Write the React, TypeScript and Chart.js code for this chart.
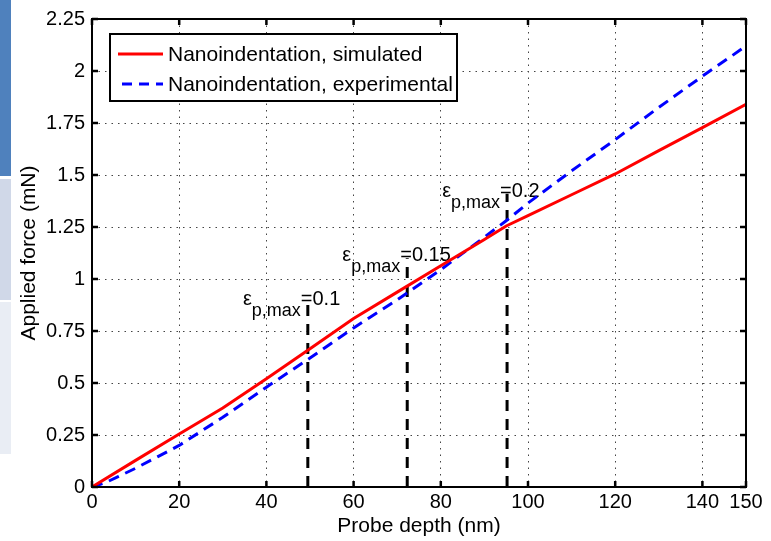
import React, { useEffect, useRef } from "react";
import { Chart, registerables } from "chart.js";

Chart.register(...registerables);

// ---- data ----
const simDepth = [0, 10, 20, 30, 40, 50, 60, 70, 80, 90, 95, 100, 110, 120, 130, 140, 150];
const simForce = [0, 0.128, 0.255, 0.38, 0.52, 0.665, 0.81, 0.937, 1.064, 1.19, 1.255, 1.305, 1.405, 1.505, 1.617, 1.728, 1.84];

const expDepth = [0, 3, 6, 10, 15, 20, 30, 40, 50, 60, 70, 80, 88, 95, 100, 110, 120, 130, 140, 150];
const expForce = [0, 0.02, 0.05, 0.09, 0.145, 0.2, 0.335, 0.48, 0.62, 0.765, 0.9, 1.045, 1.17, 1.28, 1.365, 1.52, 1.67, 1.825, 1.975, 2.12];

const strainLabels = ["0.1", "0.15", "0.2"];
const strainDepth = [49.5, 72.3, 95.2];
const strainTop = [0.89, 1.1, 1.41];

const xTicks = [0, 20, 40, 60, 80, 100, 120, 140, 150];
const xTickLabels = ["0", "20", "40", "60", "80", "100", "120", "140", "150"];
const yTicks = [0, 0.25, 0.5, 0.75, 1, 1.25, 1.5, 1.75, 2, 2.25];
const yTickLabels = ["0", "0.25", "0.5", "0.75", "1", "1.25", "1.5", "1.75", "2", "2.25"];

const seriesNames = ["Nanoindentation, simulated", "Nanoindentation, experimental"];
const xTitle = "Probe depth (nm)";
const yTitle = "Applied force (mN)";

const FONT = '"Liberation Sans", Arial, Helvetica, sans-serif';
const RED = "#ff0000";
const BLUE = "#0000ff";

const decor = {
  id: "decor",
  beforeDatasetsDraw(chart: any) {
    const { ctx, scales } = chart;
    const x = scales.x;
    const y = scales.y;
    ctx.save();
    ctx.fillStyle = "#000";
    ctx.textBaseline = "alphabetic";
    ctx.textAlign = "left";
    strainDepth.forEach((d, i) => {
      const px = x.getPixelForValue(d);
      const py = y.getPixelForValue(strainTop[i]);
      const base = py + 3;
      const eqStart = px - 7;
      ctx.font = `18px ${FONT}`;
      const subW = ctx.measureText("p,max").width;
      const subX = eqStart - subW;
      ctx.fillText("p,max", subX, base + 11);
      ctx.font = `20px ${FONT}`;
      const epsW = ctx.measureText("\u03b5").width;
      ctx.fillText("\u03b5", subX - epsW, base);
      ctx.fillText("=" + strainLabels[i], eqStart, base);
    });
    ctx.restore();
  },
  afterDraw(chart: any) {
    const { ctx, chartArea, scales } = chart;
    const { left, right, top, bottom } = chartArea;
    const x = scales.x;
    const y = scales.y;
    ctx.save();
    ctx.setLineDash([]);
    ctx.strokeStyle = "#000";
    ctx.lineWidth = 2.5;
    // inward ticks
    const tl = 6;
    ctx.beginPath();
    xTicks.forEach((v) => {
      const px = x.getPixelForValue(v);
      ctx.moveTo(px, bottom);
      ctx.lineTo(px, bottom - tl);
      ctx.moveTo(px, top);
      ctx.lineTo(px, top + tl);
    });
    yTicks.forEach((v) => {
      const py = y.getPixelForValue(v);
      ctx.moveTo(left, py);
      ctx.lineTo(left + tl, py);
      ctx.moveTo(right, py);
      ctx.lineTo(right - tl, py);
    });
    ctx.stroke();
    // frame
    ctx.lineWidth = 2;
    ctx.strokeRect(left, top, right - left, bottom - top);

    // legend
    const bx = left + 18;
    const by = top + 15;
    const bw = 347;
    const bh = 67;
    ctx.fillStyle = "#fff";
    ctx.fillRect(bx, by, bw, bh);
    ctx.lineWidth = 2;
    ctx.strokeRect(bx, by, bw, bh);
    const rows = [by + 20, by + 50];
    ctx.lineWidth = 3;
    ctx.strokeStyle = RED;
    ctx.beginPath();
    ctx.moveTo(bx + 8, rows[0]);
    ctx.lineTo(bx + 53, rows[0]);
    ctx.stroke();
    ctx.strokeStyle = BLUE;
    ctx.setLineDash([10, 7]);
    ctx.beginPath();
    ctx.moveTo(bx + 12, rows[1]);
    ctx.lineTo(bx + 53, rows[1]);
    ctx.stroke();
    ctx.setLineDash([]);
    ctx.fillStyle = "#000";
    ctx.font = `21px ${FONT}`;
    ctx.textBaseline = "middle";
    ctx.textAlign = "left";
    ctx.fillText(seriesNames[0], bx + 58, rows[0] + 1);
    ctx.fillText(seriesNames[1], bx + 58, rows[1] + 1);
    ctx.restore();
  },
};

export default function App() {
  const ref = useRef<HTMLCanvasElement>(null);

  useEffect(() => {
    const canvas = ref.current;
    if (!canvas) return;
    const strainSets = strainDepth.map((d, i) => ({
      label: "strain" + i,
      data: [
        { x: d, y: 0 },
        { x: d, y: strainTop[i] },
      ],
      borderColor: "#000",
      borderWidth: 3,
      borderDash: [11, 8],
      pointRadius: 0,
      fill: false,
      tension: 0,
    }));
    const chart = new Chart(canvas, {
      type: "line",
      data: {
        datasets: [
          {
            label: seriesNames[0],
            data: simDepth.map((d, i) => ({ x: d, y: simForce[i] })),
            borderColor: RED,
            borderWidth: 3,
            pointRadius: 0,
            fill: false,
            tension: 0,
          },
          {
            label: seriesNames[1],
            data: expDepth.map((d, i) => ({ x: d, y: expForce[i] })),
            borderColor: BLUE,
            borderWidth: 3,
            borderDash: [11, 7],
            pointRadius: 0,
            fill: false,
            tension: 0,
          },
          ...strainSets,
        ] as any,
      },
      options: {
        responsive: false,
        animation: false,
        devicePixelRatio: 1,
        layout: { padding: { left: 0, right: 25, top: 18, bottom: 0 } },
        plugins: {
          legend: { display: false },
          tooltip: { enabled: false },
        },
        scales: {
          x: {
            type: "linear",
            min: 0,
            max: 150,
            afterBuildTicks: (s: any) => {
              s.ticks = xTicks.map((v) => ({ value: v }));
            },
            afterFit: (s: any) => {
              s.height = 54;
            },
            ticks: {
              autoSkip: false,
              maxRotation: 0,
              padding: 3,
              color: "#000",
              font: { family: FONT, size: 20 },
              callback: (v: any) => xTickLabels[xTicks.indexOf(Number(v))],
            },
            grid: {
              drawTicks: false,
              lineWidth: 1,
              color: (c: any) => {
                const v = c.tick ? c.tick.value : null;
                return v === 0 || v === 150 ? "rgba(0,0,0,0)" : "#444";
              },
            },
            border: { display: false, dash: [1.5, 5] },
            title: {
              display: true,
              text: xTitle,
              color: "#000",
              font: { family: FONT, size: 21 },
              padding: { top: 0, bottom: 2 },
            },
          },
          y: {
            type: "linear",
            min: 0,
            max: 2.25,
            afterBuildTicks: (s: any) => {
              s.ticks = yTicks.map((v) => ({ value: v }));
            },
            afterFit: (s: any) => {
              s.width = 92;
            },
            ticks: {
              autoSkip: false,
              padding: 7,
              color: "#000",
              font: { family: FONT, size: 20 },
              callback: (v: any) => yTickLabels[yTicks.indexOf(Number(v))],
            },
            grid: {
              drawTicks: false,
              lineWidth: 1,
              color: (c: any) => {
                const v = c.tick ? c.tick.value : null;
                return v === 0 || v === 2.25 ? "rgba(0,0,0,0)" : "#444";
              },
            },
            border: { display: false, dash: [1.5, 5] },
            title: {
              display: true,
              text: yTitle,
              color: "#000",
              font: { family: FONT, size: 21 },
              padding: { top: 17, bottom: 0 },
            },
          },
        },
      } as any,
      plugins: [decor],
    });
    return () => chart.destroy();
  }, []);

  return (
    <div style={{ position: "absolute", left: 0, top: 0, width: 771, height: 541, background: "#fff" }}>
      <div style={{ position: "absolute", left: 0, top: 0, width: 11, height: 176, background: "#4F81BD" }} />
      <div style={{ position: "absolute", left: 0, top: 179, width: 11, height: 121, background: "#D0D8E8" }} />
      <div style={{ position: "absolute", left: 0, top: 302, width: 11, height: 152, background: "#E9EDF4" }} />
      <canvas ref={ref} width={771} height={541} style={{ position: "absolute", left: 0, top: 0 }} />
    </div>
  );
}
